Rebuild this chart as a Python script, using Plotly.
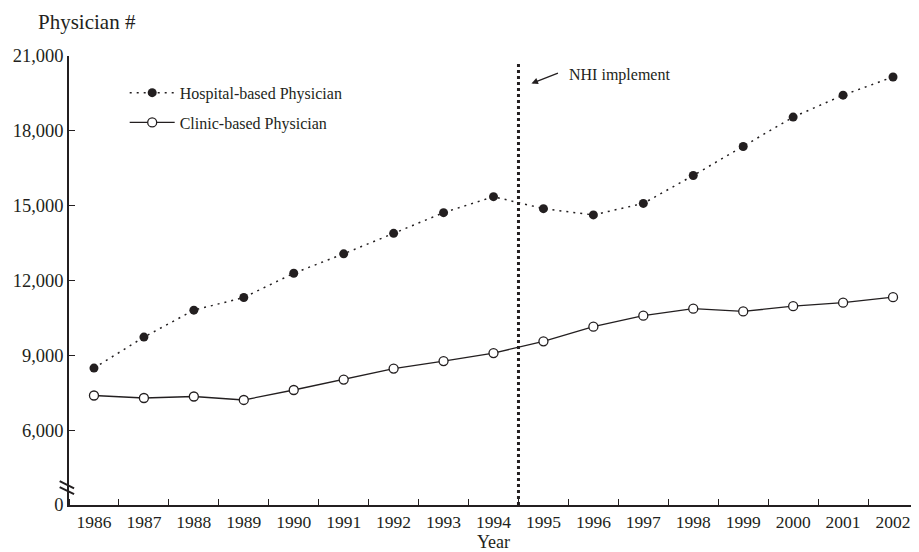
import plotly.graph_objects as go

years = list(range(1986, 2003))
hospital = [8490, 9730, 10810, 11320, 12290, 13070, 13890, 14720, 15360,
            14880, 14630, 15090, 16210, 17370, 18550, 19430, 20160]
clinic = [7390, 7290, 7350, 7210, 7610, 8030, 8470, 8770, 9090,
          9560, 10150, 10590, 10870, 10760, 10970, 11110, 11330]

y_tickvals = [3000, 6000, 9000, 12000, 15000, 18000, 21000]
y_ticktext = ["0", "6,000", "9,000", "12,000", "15,000", "18,000", "21,000"]

FONT = "Liberation Serif"
INK = "#231f20"

fig = go.Figure()
fig.add_trace(go.Scatter(
    x=years, y=hospital, name="Hospital-based Physician", mode="lines+markers",
    line=dict(color=INK, width=1.5, dash="2px,5px"),
    marker=dict(symbol="circle", size=9, color=INK),
    legendgroup="h",
))
fig.add_trace(go.Scatter(
    x=years, y=clinic, name="Clinic-based Physician", mode="lines+markers",
    line=dict(color=INK, width=1.3),
    marker=dict(symbol="circle", size=9, color="white", line=dict(color=INK, width=1.3)),
    legendgroup="c",
))

# NHI implementation line
fig.add_shape(type="line", xref="x", yref="y", x0=1994.5, x1=1994.5, y0=3000, y1=20800,
              line=dict(color=INK, width=3, dash="dot"))

# axis break marks
for y0, y1 in [(0.053, 0.037), (0.040, 0.024)]:
    fig.add_shape(type="line", xref="paper", yref="paper", x0=-0.011, x1=0.006,
                  y0=y0, y1=y1, line=dict(color=INK, width=2))

fig.add_annotation(x=1994.76, y=19900, ax=28, ay=-11, text="", showarrow=True,
                   arrowhead=2, arrowsize=1, arrowwidth=1.3, arrowcolor=INK)
fig.add_annotation(x=1995.48, y=20230, xanchor="left", yanchor="middle",
                   text="NHI implement", showarrow=False,
                   font=dict(family=FONT, size=16, color=INK))
fig.add_annotation(xref="paper", yref="paper", x=-0.0389, y=1.075, xanchor="left",
                   yanchor="middle", text="Physician #", showarrow=False,
                   font=dict(family=FONT, size=21, color=INK))

# page body has an 8px margin, so the figure is sized to fit inside the window
fig.update_layout(
    width=911, height=544,
    margin=dict(l=61, r=1, t=48, b=47),
    paper_bgcolor="white", plot_bgcolor="white",
    font=dict(family=FONT, size=18, color=INK),
    showlegend=True,
    legend=dict(x=0.0656, y=0.956, xanchor="left", yanchor="top",
                font=dict(family=FONT, size=16, color=INK),
                bgcolor="rgba(0,0,0,0)", traceorder="grouped", tracegroupgap=6,
                itemwidth=45),
    xaxis=dict(range=[1985.5, 2002.5], tickvals=years, ticktext=[str(y) for y in years],
               ticks="", showgrid=False, zeroline=False, showline=True,
               linecolor=INK, linewidth=1.5,
               minor=dict(ticks="inside", tick0=1985.5, dtick=1, ticklen=6,
                          tickcolor=INK, tickwidth=1.3, showgrid=False),
               title=dict(text="Year", standoff=2, font=dict(size=18)),
               tickfont=dict(size=17.5)),
    yaxis=dict(range=[3000, 21000], tickvals=y_tickvals, ticktext=y_ticktext,
               ticks="inside", ticklen=6, tickcolor=INK, tickwidth=1.3,
               showgrid=False, zeroline=False, showline=True,
               linecolor=INK, linewidth=1.5, tickfont=dict(size=18.5),
               ticklabelstandoff=0),
)

fig.write_html("out.html")
